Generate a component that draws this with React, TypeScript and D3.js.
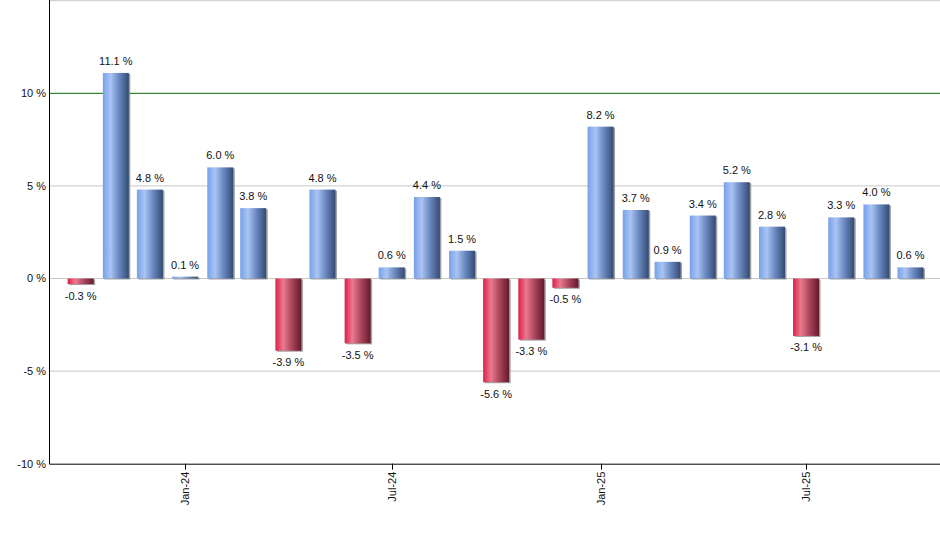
import { FC } from 'react';
import * as d3 from 'd3';

const months = [
  '2023-10', '2023-11', '2023-12', '2024-01', '2024-02', '2024-03', '2024-04',
  '2024-05', '2024-06', '2024-07', '2024-08', '2024-09', '2024-10', '2024-11',
  '2024-12', '2025-01', '2025-02', '2025-03', '2025-04', '2025-05', '2025-06',
  '2025-07', '2025-08', '2025-09', '2025-10',
];
const returns = [
  -0.3, 11.1, 4.8, 0.1, 6.0, 3.8, -3.9, 4.8, -3.5, 0.6, 4.4, 1.5, -5.6, -3.3,
  -0.5, 8.2, 3.7, 0.9, 3.4, 5.2, 2.8, -3.1, 3.3, 4.0, 0.6,
];
const yTicks = [-10, -5, 0, 5, 10];
const xTickMonths = ['2024-01', '2024-07', '2025-01', '2025-07'];

const width = 940;
const height = 550;
const left = 50;
const right = 940;
const top = 0.7;
const bottom = 463.7;
const barWidth = 26;
const font = '"Liberation Sans", Arial, sans-serif';

const parseMonth = d3.timeParse('%Y-%m');
const fmtTick = d3.timeFormat('%b-%y');

const App: FC = () => {
  const x = d3
    .scaleTime()
    .domain([new Date(2023, 8, 4), new Date(2025, 9, 27)])
    .range([left, right]);
  const y = d3.scaleLinear().domain([-10, 15]).range([bottom, top]);

  const bars = months.map((m, i) => ({ date: parseMonth(m) as Date, value: returns[i] }));

  return (
    <div style={{ position: 'absolute', left: 0, top: 0 }}>
      <svg width={width} height={height} style={{ display: 'block', fontFamily: font }}>
        <defs>
          <linearGradient id="gBlue" x1="0" x2="1" y1="0" y2="0">
            <stop offset="0" stopColor="#76a0ec" />
            <stop offset="0.3" stopColor="#aac4f2" />
            <stop offset="0.6" stopColor="#6d8cc4" />
            <stop offset="1" stopColor="#334a73" />
          </linearGradient>
          <linearGradient id="gRed" x1="0" x2="1" y1="0" y2="0">
            <stop offset="0" stopColor="#de1e48" />
            <stop offset="0.3" stopColor="#ea7a90" />
            <stop offset="0.6" stopColor="#b04a60" />
            <stop offset="1" stopColor="#64182a" />
          </linearGradient>
        </defs>

        {/* grid */}
        <line x1={left} x2={right} y1={y(15)} y2={y(15)} stroke="#c8c8c8" />
        {[-5, 0, 5].map((t) => (
          <line key={t} x1={left} x2={right} y1={y(t)} y2={y(t)} stroke="#c8c8c8" />
        ))}
        <line x1={left} x2={right} y1={y(10)} y2={y(10)} stroke="#006a00" />

        {/* bars */}
        {bars.map((d, i) => {
          const cx = x(d.date);
          const y0 = y(Math.max(0, d.value));
          const h = Math.abs(y(d.value) - y(0));
          return (
            <g key={i}>
              <rect x={cx - barWidth / 2 + 1.5} y={y0 + 1} width={barWidth} height={h} fill="#8a8a8a" opacity={0.8} />
              <rect
                x={cx - barWidth / 2}
                y={y0}
                width={barWidth}
                height={h}
                fill={d.value >= 0 ? 'url(#gBlue)' : 'url(#gRed)'}
              />
              <text
                x={cx}
                y={d.value >= 0 ? y(d.value) - 8 : y(d.value) + 15.5}
                textAnchor="middle"
                fontSize={11}
                fill="#111"
              >
                {`${d.value.toFixed(1)} %`}
              </text>
            </g>
          );
        })}

        {/* axes */}
        <line x1={left - 0.5} x2={left - 0.5} y1={0} y2={bottom + 0.5} stroke="#000" />
        <line x1={left - 0.5} x2={right} y1={bottom + 0.5} y2={bottom + 0.5} stroke="#000" />
        {yTicks.map((t) => (
          <text key={t} x={46} y={y(t)} dy="0.35em" textAnchor="end" fontSize={11} fill="#111">
            {`${t} %`}
          </text>
        ))}
        {xTickMonths.map((m) => {
          const tx = Math.round(x(parseMonth(m) as Date)) + 0.5;
          return (
            <g key={m} transform={`translate(${tx},${bottom})`}>
              <line y1={0} y2={6} stroke="#000" />
              <text transform="rotate(-90)" x={-8} dy="0.35em" textAnchor="end" fontSize={11} fill="#111">
                {fmtTick(parseMonth(m) as Date)}
              </text>
            </g>
          );
        })}
      </svg>
    </div>
  );
};

export default App;
